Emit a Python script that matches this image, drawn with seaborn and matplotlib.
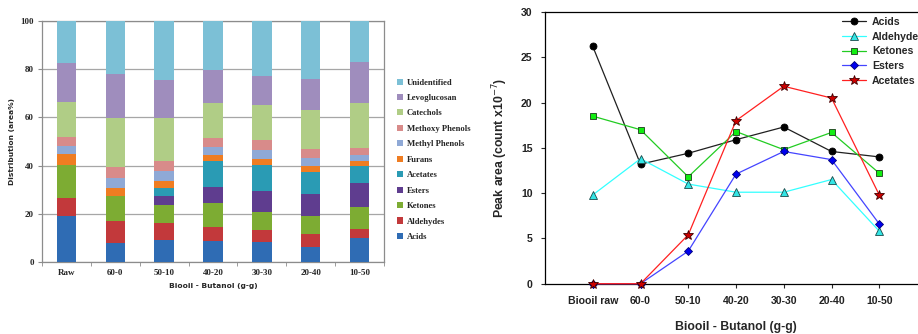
import numpy as np
import pandas as pd
import matplotlib
matplotlib.use("Agg")
import matplotlib.pyplot as plt
from matplotlib.patches import Patch
from matplotlib.lines import Line2D
import seaborn as sns

# ---- left panel: composition (area %) ----
samples = ['Raw', '60-0', '50-10', '40-20', '30-30', '20-40', '10-50']
acids = [19.3, 8.1, 9.4, 9.0, 8.6, 6.5, 10.2]
aldehydes = [7.2, 9.0, 6.9, 5.8, 4.8, 5.2, 3.7]
ketones = [13.6, 10.5, 7.6, 9.8, 7.6, 7.6, 9.0]
esters = [0.0, 0.0, 3.7, 6.6, 8.5, 9.0, 9.9]
acetates = [0.0, 0.0, 3.3, 10.7, 10.9, 9.2, 7.2]
furans = [4.6, 3.2, 2.9, 2.4, 2.4, 2.5, 2.1]
methyl_phenols = [3.6, 4.2, 3.9, 3.6, 3.5, 3.2, 2.3]
methoxy_phenols = [3.6, 4.6, 4.4, 3.7, 4.3, 3.8, 3.0]
catechols = [14.4, 20.1, 17.6, 14.5, 14.6, 16.0, 18.7]
levoglucosan = [16.0, 18.2, 15.9, 13.5, 12.0, 12.9, 16.8]
unidentified = [17.7, 22.1, 24.4, 20.4, 22.8, 24.1, 17.1]

# ---- right panel: peak area (count x10^-7) ----
samples_r = ['Biooil raw', '60-0', '50-10', '40-20', '30-30', '20-40', '10-50']
pk_acids = [26.2, 13.2, 14.4, 15.9, 17.3, 14.6, 14.0]
pk_aldehyde = [9.8, 13.8, 11.0, 10.1, 10.1, 11.5, 5.8]
pk_ketones = [18.5, 17.0, 11.8, 16.8, 14.8, 16.7, 12.2]
pk_esters = [0.0, 0.0, 3.6, 12.1, 14.6, 13.7, 6.6]
pk_acetates = [0.0, 0.0, 5.4, 18.0, 21.8, 20.5, 9.8]

components = {
    'Unidentified': (unidentified, '#7cc0d6'),
    'Levoglucosan': (levoglucosan, '#9f8dbd'),
    'Catechols': (catechols, '#b0cd86'),
    'Methoxy Phenols': (methoxy_phenols, '#d88b8a'),
    'Methyl Phenols': (methyl_phenols, '#8fa9d6'),
    'Furans': (furans, '#ef7d22'),
    'Acetates': (acetates, '#2a9bb4'),
    'Esters': (esters, '#5f3d8f'),
    'Ketones': (ketones, '#7dac33'),
    'Aldehydes': (aldehydes, '#c2393b'),
    'Acids': (acids, '#2f6cb4'),
}

rows = []
for name, (vals, col) in components.items():
    for i, v in enumerate(vals):
        rows.append({'pos': i, 'component': name, 'value': v})
df = pd.DataFrame(rows)
palette = {k: c for k, (v, c) in components.items()}

sns.set_style("white")

fig = plt.figure(figsize=(9.18, 3.34), dpi=100)
ax1 = fig.add_axes([0.0458, 0.2147, 0.3725, 0.7234])
ax2 = fig.add_axes([0.5937, 0.1506, 0.4161, 0.8135])

serif = 'Liberation Serif'
arial = ['Liberation Sans', 'DejaVu Sans']

# stacked bars: first hue level ends on top in seaborn's stack
sns.histplot(data=df, x='pos', weights='value', hue='component',
             hue_order=list(components.keys()), palette=palette,
             multiple='stack', discrete=True, shrink=0.4, alpha=1,
             linewidth=0, legend=False, ax=ax1, zorder=3)
ax1.set_xlim(-0.5, 6.5)
ax1.set_ylim(0, 100)
ax1.set_yticks([0, 20, 40, 60, 80, 100])
ax1.set_xticks(range(len(samples)))
ax1.set_xticks(np.arange(-0.5, 7, 1), minor=True)
ax1.set_xticklabels(samples, fontfamily=serif, fontweight='bold', fontsize=6.5)
for t in ax1.get_yticklabels():
    t.set_fontfamily(serif)
    t.set_fontweight('bold')
    t.set_fontsize(6.5)
ax1.yaxis.grid(True, color='#a6a6a6', lw=0.9, zorder=0)
ax1.set_axisbelow(True)
for s in ax1.spines.values():
    s.set_color('#8c8c8c')
    s.set_linewidth(0.9)
ax1.tick_params(axis='x', which='major', length=0, pad=5)
ax1.tick_params(axis='x', which='minor', length=3, color='#8c8c8c', direction='out', bottom=True)
ax1.tick_params(axis='y', length=3, color='#8c8c8c', direction='out', left=True, pad=3)
ax1.set_ylabel('Distribution (area%)', fontsize=5.4, fontweight='bold', labelpad=4)
ax1.set_xlabel('Biooil - Butanol (g-g)', fontsize=5.4, fontweight='bold', labelpad=4)

handles = [Patch(facecolor=c, edgecolor='none', label=k) for k, (v, c) in components.items()]
fig.legend(handles=handles, loc='upper left', bbox_to_anchor=(0.429, 0.775),
           frameon=False, prop={'family': serif, 'weight': 'bold', 'size': 6.2},
           handlelength=0.7, handleheight=0.7, handletextpad=0.4,
           labelspacing=0.86, borderaxespad=0)

# right panel lines
series = [
    ('Acids', pk_acids, '#202020', 'o', '#000000', '#000000', 5),
    ('Aldehyde', pk_aldehyde, '#33ffff', '^', '#33e5e5', '#1a4a4a', 5.5),
    ('Ketones', pk_ketones, '#22cc22', 's', '#11ee11', '#1a3a1a', 5),
    ('Esters', pk_esters, '#4444ff', 'D', '#0000ee', '#00007a', 4.5),
    ('Acetates', pk_acetates, '#ff2020', '*', '#cc0000', '#400000', 7.5),
]
xr = np.arange(len(samples_r))
for name, vals, lc, mk, fc, ec, ms in series:
    sns.lineplot(x=xr, y=vals, ax=ax2, color=lc, lw=0.9, marker=mk,
                 markersize=ms, markerfacecolor=fc, markeredgecolor=ec,
                 markeredgewidth=0.6, label=name, clip_on=False, zorder=4,
                 legend=False)

ax2.set_xlim(-1, 7)
ax2.set_ylim(0, 30)
ax2.set_yticks([0, 5, 10, 15, 20, 25, 30])
ax2.set_xticks(xr)
ax2.set_xticklabels(samples_r)
for t in ax2.get_xticklabels() + ax2.get_yticklabels():
    t.set_fontfamily(arial)
    t.set_fontweight('bold')
    t.set_fontsize(7.6)
    t.set_color('#222222')
for s in ax2.spines.values():
    s.set_color('black')
    s.set_linewidth(0.9)
ax2.tick_params(axis='both', length=3, direction='out', bottom=True, left=True, pad=6)
ax2.set_ylabel('Peak area (count x10$^{-7}$)', fontsize=8.8, fontweight='bold',
               fontfamily=arial, labelpad=8)
ax2.set_xlabel('Biooil - Butanol (g-g)', fontsize=8.8, fontweight='bold',
               fontfamily=arial, labelpad=11)

lh = [Line2D([0], [0], color=lc, lw=0.9, marker=mk, markersize=ms,
             markerfacecolor=fc, markeredgecolor=ec, markeredgewidth=0.6, label=name)
      for name, vals, lc, mk, fc, ec, ms in series]
fig.legend(handles=lh, loc='upper left', bbox_to_anchor=(0.913, 0.962),
           frameon=False, prop={'size': 7.6, 'weight': 'bold', 'family': arial},
           handlelength=2.2, handletextpad=0.6, labelspacing=0.45, borderaxespad=0)

fig.savefig('out.png', dpi=100)
